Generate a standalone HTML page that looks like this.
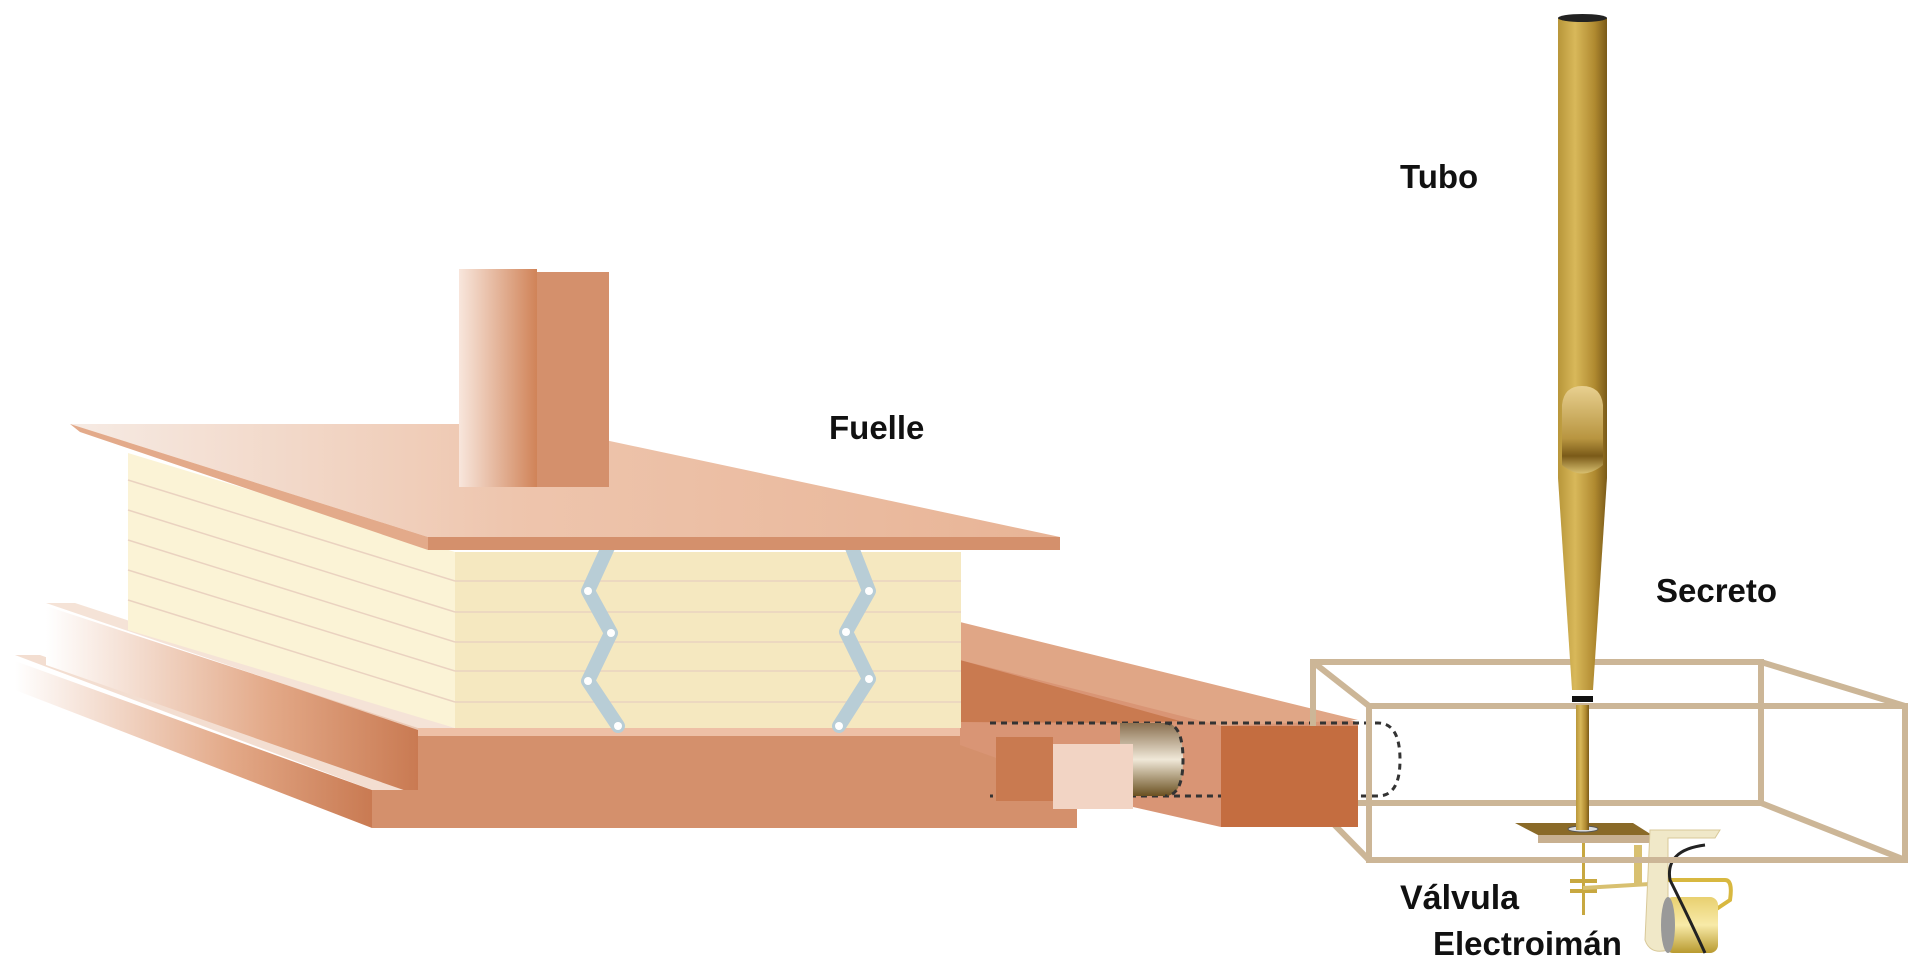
<!DOCTYPE html>
<html><head><meta charset="utf-8"><style>
html,body{margin:0;padding:0;background:#fff;}
svg{display:block}
text{font-family:"Liberation Sans",sans-serif;font-weight:bold;fill:#111;}
</style></head><body>
<svg width="1920" height="971" viewBox="0 0 1920 971" xmlns="http://www.w3.org/2000/svg">
<defs>
<linearGradient id="fadeL" x1="0" x2="1" y1="0" y2="0">
<stop offset="0" stop-color="#fff"/><stop offset="0.6" stop-color="#e3a988"/><stop offset="1" stop-color="#c97a52"/></linearGradient>
<linearGradient id="fadeTop" x1="0" x2="1" y1="0" y2="0">
<stop offset="0" stop-color="#f6ebe4"/><stop offset="0.45" stop-color="#eec5ad"/><stop offset="1" stop-color="#e8b496"/></linearGradient>
<linearGradient id="chim" x1="0" x2="1"><stop offset="0" stop-color="#f8e6dc"/><stop offset="1" stop-color="#d08358"/></linearGradient>
<linearGradient id="brass" x1="0" x2="1"><stop offset="0" stop-color="#b8963a"/><stop offset="0.35" stop-color="#d8b85a"/><stop offset="0.75" stop-color="#b08a30"/><stop offset="1" stop-color="#7a5a18"/></linearGradient>
<linearGradient id="mouth" x1="0" x2="0" y1="0" y2="1"><stop offset="0" stop-color="#e8d090"/><stop offset="0.6" stop-color="#b89540"/><stop offset="0.8" stop-color="#7a5a18"/><stop offset="1" stop-color="#d8c070"/></linearGradient>
<linearGradient id="cyl" x1="0" x2="0" y1="0" y2="1"><stop offset="0" stop-color="#8a7050"/><stop offset="0.5" stop-color="#f0e8d8"/><stop offset="1" stop-color="#6a5020"/></linearGradient>
<linearGradient id="coil" x1="0" x2="0" y1="0" y2="1"><stop offset="0" stop-color="#e8d070"/><stop offset="0.5" stop-color="#f8eaa8"/><stop offset="1" stop-color="#b89a30"/></linearGradient>
</defs>

<polygon points="15,661 372,790 372,828 15,690" fill="url(#fadeL)"/>
<polygon points="15,655 40,655 418,790 372,790" fill="#f0d6c6" opacity="0.8"/>
<polygon points="46,606 418,728 418,795 46,665" fill="url(#fadeL)"/>
<polygon points="46,603 75,603 455,728 418,730" fill="#f2dccd" opacity="0.8"/>
<rect x="372" y="790" width="705" height="38" fill="#d4906c"/>
<rect x="418" y="733" width="659" height="60" fill="#d4906c"/>
<rect x="418" y="728" width="600" height="8" fill="#eec0a6"/>

<polygon points="960,630 1358,722 1358,726 1221,726 1221,827 1133,807 960,745" fill="#d99575"/>
<polygon points="960,660 1180,721 1133,723 960,722" fill="#c97a50"/>
<polygon points="960,622 1358,720 1221,726 960,660" fill="#e0a686"/>
<rect x="1221" y="726" width="137" height="101" fill="#c46d40"/>
<path d="M990,723 H1378 Q1400,723 1400,760 Q1400,796 1378,796 H990" fill="none" stroke="#333" stroke-width="3" stroke-dasharray="6,5"/>
<path d="M1120,723 H1165 Q1183,723 1183,760 Q1183,796 1165,796 H1120 Z" fill="url(#cyl)"/>
<path d="M1165,723 Q1183,723 1183,760 Q1183,796 1165,796" fill="none" stroke="#333" stroke-width="3" stroke-dasharray="6,5"/>
<rect x="996" y="737" width="57" height="64" fill="#c97a50"/>
<rect x="1053" y="744" width="80" height="65" fill="#f2d4c4"/>

<polygon points="128,453 455,552 455,728 128,630" fill="#fbf3d6"/>
<rect x="455" y="552" width="506" height="176" fill="#f5e8c0"/>
<g stroke="#ead2c0" stroke-width="1.5">
<line x1="455" y1="581" x2="961" y2="581"/><line x1="455" y1="612" x2="961" y2="612"/>
<line x1="455" y1="642" x2="961" y2="642"/><line x1="455" y1="671" x2="961" y2="671"/>
<line x1="455" y1="702" x2="961" y2="702"/>
<line x1="128" y1="480" x2="455" y2="581"/><line x1="128" y1="510" x2="455" y2="612"/>
<line x1="128" y1="540" x2="455" y2="642"/><line x1="128" y1="570" x2="455" y2="671"/>
<line x1="128" y1="600" x2="455" y2="702"/>
</g>
<g fill="none" stroke="#b8cdd6" stroke-width="14" stroke-linejoin="round" stroke-linecap="round">
<polyline points="609,545 588,591 611,633 588,681 618,726"/>
<polyline points="851,545 869,591 846,632 869,679 839,726"/>
</g>
<g fill="#fff">
<circle cx="609" cy="545" r="4"/><circle cx="588" cy="591" r="4"/><circle cx="611" cy="633" r="4"/><circle cx="588" cy="681" r="4"/><circle cx="618" cy="726" r="4"/>
<circle cx="851" cy="545" r="4"/><circle cx="869" cy="591" r="4"/><circle cx="846" cy="632" r="4"/><circle cx="869" cy="679" r="4"/><circle cx="839" cy="726" r="4"/>
</g>

<polygon points="70,424 530,424 1060,537 428,537" fill="url(#fadeTop)"/>
<polygon points="70,424 428,537 428,550 80,432" fill="#e3aa8a"/>
<rect x="428" y="537" width="632" height="13" fill="#d4906c"/>
<rect x="459" y="269" width="78" height="218" fill="url(#chim)"/>
<rect x="537" y="272" width="72" height="215" fill="#d4906c"/>

<g fill="none" stroke="#ccb697" stroke-width="6">
<rect x="1313" y="662" width="448" height="141"/>
<rect x="1369" y="706" width="536" height="154"/>
<line x1="1313" y1="662" x2="1369" y2="706"/><line x1="1761" y1="662" x2="1905" y2="706"/>
<line x1="1313" y1="803" x2="1369" y2="860"/><line x1="1761" y1="803" x2="1905" y2="860"/>
</g>
<rect x="1221" y="726" width="137" height="101" fill="#c46d40"/>

<rect x="1558" y="18" width="49" height="460" fill="url(#brass)"/>
<ellipse cx="1582.5" cy="18" rx="24.5" ry="4" fill="#222"/>
<path d="M1558,478 L1607,478 L1593,690 L1572,690 Z" fill="url(#brass)"/>
<path d="M1562,405 Q1564,386 1582,386 Q1601,386 1603,405 L1603,465 Q1582,482 1562,465 Z" fill="url(#mouth)"/>
<rect x="1572" y="696" width="21" height="6" fill="#111"/>
<rect x="1576" y="705" width="13" height="125" fill="url(#brass)"/>
<polygon points="1515,823 1633,823 1652,835 1538,835" fill="#8a6a28"/>
<rect x="1538" y="835" width="114" height="8" fill="#c8b090"/>
<ellipse cx="1583" cy="829" rx="15" ry="3" fill="#ddd" stroke="#555" stroke-width="1"/>
<rect x="1576" y="815" width="13" height="15" fill="url(#brass)"/>
<rect x="1582" y="843" width="3" height="72" fill="#c8a840"/>
<rect x="1570" y="879" width="27" height="4" fill="#c8a840"/>
<rect x="1570" y="889" width="27" height="4" fill="#c8a840"/>
<line x1="1583" y1="888" x2="1650" y2="884" stroke="#d8c070" stroke-width="4"/>
<rect x="1634" y="845" width="8" height="40" fill="#d8c070"/>
<path d="M1650,830 H1720 L1715,838 H1668 V950 Q1650,955 1645,940 Z" fill="#f0e8c8" stroke="#d8c898" stroke-width="1"/>
<path d="M1668,880 H1725 Q1733,880 1730,900 L1715,910" fill="none" stroke="#d8b840" stroke-width="4"/>
<rect x="1665" y="897" width="53" height="56" rx="8" fill="url(#coil)"/>
<ellipse cx="1668" cy="925" rx="7" ry="28" fill="#999"/>
<path d="M1705,845 Q1665,850 1670,880 Q1690,920 1705,953" fill="none" stroke="#222" stroke-width="3"/>
<line x1="1369" y1="860" x2="1905" y2="860" stroke="#ccb697" stroke-width="6"/>

<text x="1400" y="188" font-size="33">Tubo</text>
<text x="829" y="439" font-size="33">Fuelle</text>
<text x="1656" y="602" font-size="33">Secreto</text>
<text x="1400" y="909" font-size="34">Válvula</text>
<text x="1433" y="955" font-size="33">Electroimán</text>
</svg>
</body></html>
